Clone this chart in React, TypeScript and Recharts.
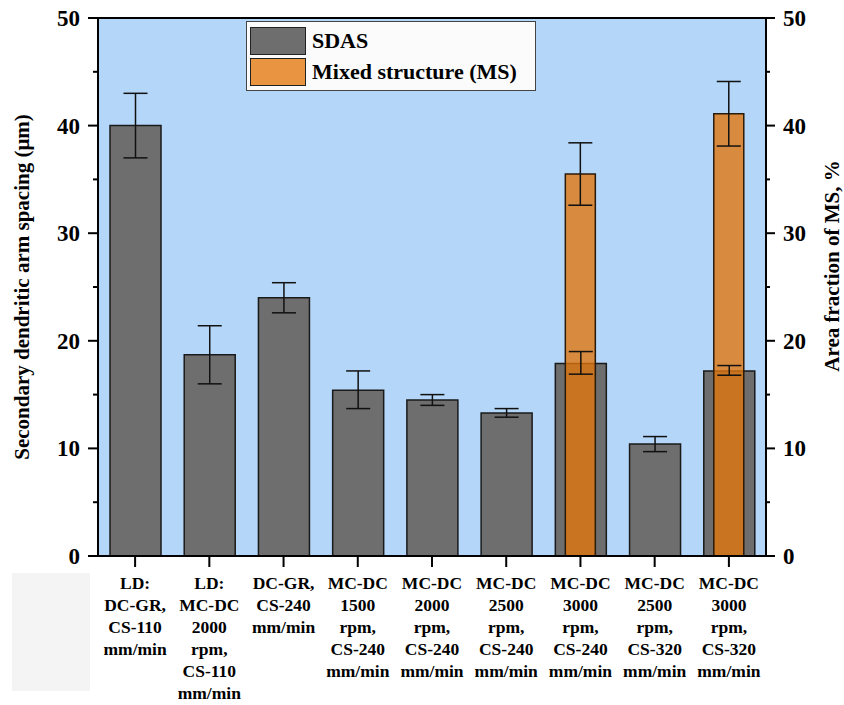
import React from "react";
import {
  BarChart,
  Bar,
  XAxis,
  YAxis,
  CartesianGrid,
  ErrorBar,
  Legend,
  ReferenceLine,
} from "recharts";

// category tick labels, one line per "\n"
const categories = [
  "LD:\nDC-GR,\nCS-110\nmm/min",
  "LD:\nMC-DC\n2000\nrpm,\nCS-110\nmm/min",
  "DC-GR,\nCS-240\nmm/min",
  "MC-DC\n1500\nrpm,\nCS-240\nmm/min",
  "MC-DC\n2000\nrpm,\nCS-240\nmm/min",
  "MC-DC\n2500\nrpm,\nCS-240\nmm/min",
  "MC-DC\n3000\nrpm,\nCS-240\nmm/min",
  "MC-DC\n2500\nrpm,\nCS-320\nmm/min",
  "MC-DC\n3000\nrpm,\nCS-320\nmm/min",
];

// SDAS (µm) with lower / upper error
const sdas = [40.0, 18.7, 24.0, 15.4, 14.5, 13.3, 17.9, 10.4, 17.2];
const sdasErrLow = [3.0, 2.7, 1.4, 1.7, 0.5, 0.4, 1.0, 0.7, 0.4];
const sdasErrHigh = [3.0, 2.7, 1.4, 1.8, 0.5, 0.4, 1.1, 0.7, 0.5];

// mixed structure area fraction (%), only for two conditions
const ms = [null, null, null, null, null, null, 35.5, null, 41.1];
const msErrLow = [null, null, null, null, null, null, 2.9, null, 3.0];
const msErrHigh = [null, null, null, null, null, null, 2.9, null, 3.0];

const yTicks = [0, 5, 10, 15, 20, 25, 30, 35, 40, 45, 50];

const data = categories.map((label, i) => ({
  label,
  sdas: sdas[i],
  sdasErr: [sdasErrLow[i], sdasErrHigh[i]],
  ms: ms[i],
  msErr: ms[i] == null ? null : [msErrLow[i], msErrHigh[i]],
}));

const FONT = "'Liberation Serif', 'Times New Roman', serif";
const GRAY = "#6e6e6e";
const ORANGE = "#e2760a";
const ORANGE_OPACITY = 0.78;

const LeftTick = ({ x, y, payload }: any) => {
  const major = payload.value % 10 === 0;
  return (
    <g>
      <line x1={x + 8 + (major ? 0 : 5)} x2={x + 18} y1={y} y2={y} stroke="#000" strokeWidth={2} />
      {major && (
        <text x={x} y={y} dy="0.35em" textAnchor="end" fontFamily={FONT} fontWeight="bold" fontSize={23} fill="#000">
          {payload.value}
        </text>
      )}
    </g>
  );
};

const RightTick = ({ x, y, payload }: any) => {
  const major = payload.value % 10 === 0;
  return (
    <g>
      <line x1={x - 18} x2={x - 8 - (major ? 0 : 5)} y1={y} y2={y} stroke="#000" strokeWidth={2} />
      {major && (
        <text x={x} y={y} dy="0.35em" textAnchor="start" fontFamily={FONT} fontWeight="bold" fontSize={23} fill="#000">
          {payload.value}
        </text>
      )}
    </g>
  );
};

const CategoryTick = ({ x, y, payload }: any) => {
  const lines = String(payload.value).split("\n");
  return (
    <g>
      <rect x={x - 1} y={y - 14} width={2} height={11} fill="#000" />
      <text x={x} y={y} textAnchor="middle" fontFamily={FONT} fontWeight="bold" fontSize={17.5} fill="#000">
        {lines.map((line, i) => (
          <tspan key={i} x={x} dy={i === 0 ? 19 : 22}>
            {line}
          </tspan>
        ))}
      </text>
    </g>
  );
};

const LegendBox = () => (
  <div
    style={{
      border: "1.5px solid #444",
      background: "#fbfbfb",
      padding: "3px 3px",
      fontFamily: FONT,
      fontWeight: "bold",
      fontSize: 22,
      color: "#000",
    }}
  >
    {[
      { name: "SDAS", color: GRAY, opacity: 1 },
      { name: "Mixed structure (MS)", color: ORANGE, opacity: ORANGE_OPACITY },
    ].map((item) => (
      <div key={item.name} style={{ display: "flex", alignItems: "center", height: 31 }}>
        <div
          style={{
            width: 54,
            height: 26,
            border: "1.5px solid #222",
            background: "#fff",
            marginRight: 6,
            position: "relative",
          }}
        >
          <div style={{ position: "absolute", inset: 0, background: item.color, opacity: item.opacity }} />
        </div>
        <span>{item.name}</span>
      </div>
    ))}
  </div>
);

export default function App() {
  return (
    <div style={{ position: "absolute", left: 0, top: 0, width: 844, height: 705, background: "#fff" }}>
      <div style={{ position: "absolute", left: 12, top: 573, width: 78, height: 118, background: "#f4f4f4" }} />
      <BarChart
        width={844}
        height={705}
        data={data}
        margin={{ top: 18, right: 0, bottom: 0, left: 0 }}
      >
        <CartesianGrid horizontal={false} vertical={false} fill="#b4d6f8" fillOpacity={1} xAxisId="sdas" yAxisId="left" />
        <XAxis
          xAxisId="sdas"
          dataKey="label"
          height={149}
          interval={0}
          axisLine={{ stroke: "#000", strokeWidth: 2 }}
          tickLine={false}
          tickSize={10}
          tickMargin={4}
          tick={<CategoryTick />}
        />
        <XAxis xAxisId="ms" dataKey="label" orientation="top" height={0} hide />
        <YAxis
          yAxisId="left"
          domain={[0, 50]}
          ticks={yTicks}
          width={98}
          axisLine={{ stroke: "#000", strokeWidth: 2 }}
          tickLine={false}
          tickSize={10}
          tickMargin={8}
          tick={<LeftTick />}
          label={{
            content: () => (
              <text
                x={22}
                y={287}
                transform="rotate(-90 22 287)"
                textAnchor="middle"
                dominantBaseline="central"
                fontFamily={FONT}
                fontWeight="bold"
                fontSize={21}
                fill="#000"
              >
                Secondary dendritic arm spacing (μm)
              </text>
            ),
          }}
        />
        <YAxis
          yAxisId="right"
          orientation="right"
          domain={[0, 50]}
          ticks={yTicks}
          width={78}
          axisLine={{ stroke: "#000", strokeWidth: 2 }}
          tickLine={false}
          tickSize={10}
          tickMargin={7}
          tick={<RightTick />}
          label={{
            content: () => (
              <text
                x={832}
                y={266}
                transform="rotate(-90 832 266)"
                textAnchor="middle"
                dominantBaseline="central"
                fontFamily={FONT}
                fontWeight="bold"
                fontSize={21}
                fill="#000"
              >
                Area fraction of MS, %
              </text>
            ),
          }}
        />
        <ReferenceLine xAxisId="sdas" yAxisId="left" y={50} stroke="#000" strokeWidth={2} />
        <Bar
          xAxisId="sdas"
          yAxisId="left"
          dataKey="sdas"
          name="SDAS"
          barSize={51}
          fill={GRAY}
          stroke="#1a1a1a"
          strokeWidth={1.5}
          isAnimationActive={false}
        >
          <ErrorBar dataKey="sdasErr" width={12} stroke="#111" strokeWidth={1.5} />
        </Bar>
        <Bar
          xAxisId="ms"
          yAxisId="right"
          dataKey="ms"
          name="Mixed structure (MS)"
          barSize={30}
          fill={ORANGE}
          fillOpacity={ORANGE_OPACITY}
          stroke="#2a1a0a"
          strokeWidth={1.5}
          isAnimationActive={false}
        >
          <ErrorBar dataKey="msErr" width={12} stroke="#111" strokeWidth={1.5} />
        </Bar>
        <Legend
          layout="horizontal"
          verticalAlign="middle"
          align="center"
          content={<LegendBox />}
          wrapperStyle={{ position: "absolute", left: 246, top: 21, width: 290, height: 70 }}
        />
      </BarChart>
    </div>
  );
}
